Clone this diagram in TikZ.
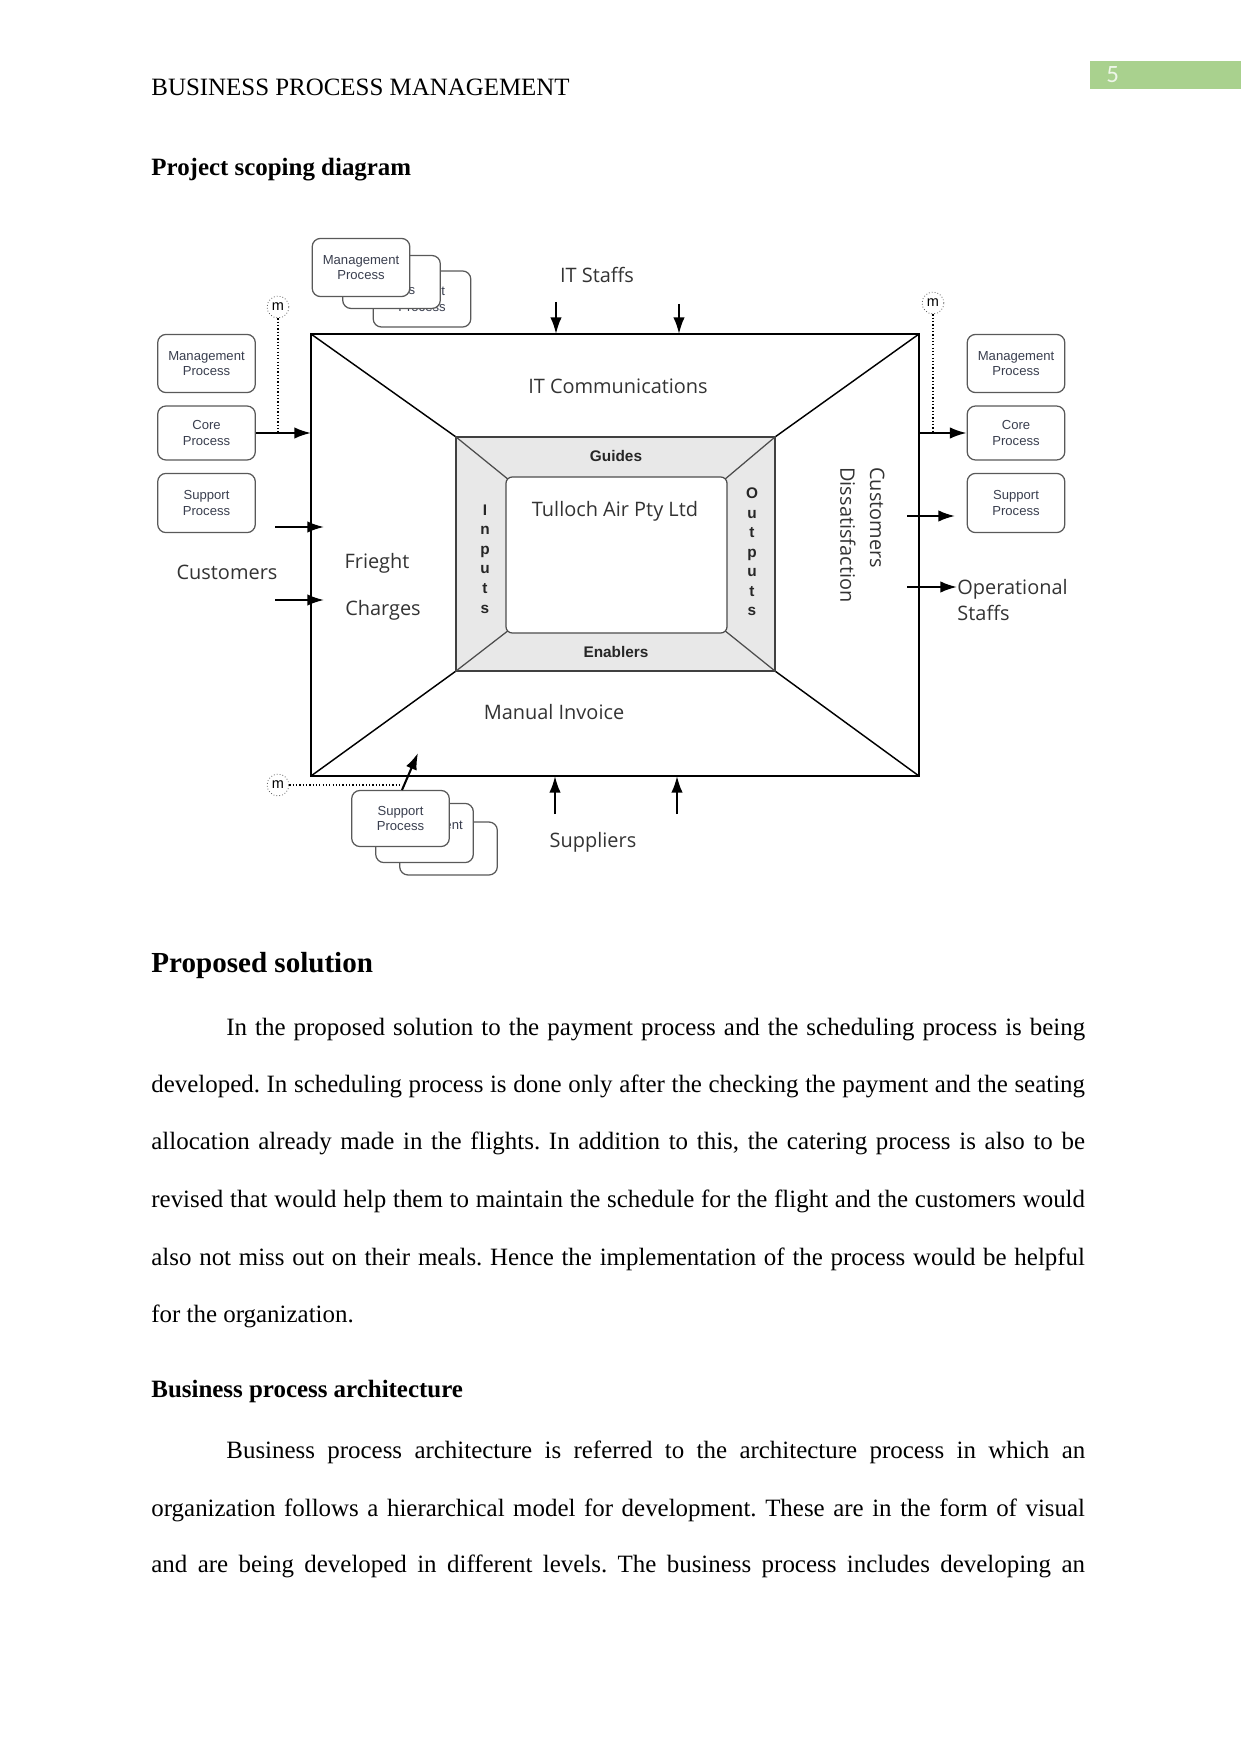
\documentclass[tikz,border=0pt]{standalone}
\usepackage{fontspec}
\setmainfont{Liberation Serif}
\newfontfamily\diagfont{Open Sans}
\newfontfamily\boxfont{Liberation Sans}
\newfontfamily\numfont{Carlito}
\usetikzlibrary{arrows.meta,positioning}
\definecolor{pagegreen}{HTML}{A9D18E}
\definecolor{boxtext}{HTML}{3A3F4F}
\frenchspacing

\begin{document}
\begin{tikzpicture}[x=0.016922cm,y=-0.016922cm,
  bodyline/.style={anchor=base west,inner sep=0pt,font=\fontsize{12}{14}\selectfont},
  procbox/.style={draw=black!65,fill=white,rounded corners=4pt,line width=0.6pt,minimum width=47pt,minimum height=27.5pt,align=center,inner sep=1pt,font=\boxfont\fontsize{6.3}{7.4}\selectfont,text=boxtext},
  lbl/.style={font=\diagfont\fontsize{9.6}{12.5}\selectfont,text=black!80,inner sep=0pt},
  flow/.style={line width=1pt,-{Latex[length=8pt,width=5.5pt]}},
  mcircle/.style={circle,draw=black!60,densely dotted,minimum size=10.5pt,inner sep=0pt,font=\boxfont\fontsize{7}{8}\selectfont},
  mline/.style={densely dotted,line width=0.6pt},
  sidetext/.style={font=\boxfont\bfseries\fontsize{7.4}{9.4}\selectfont,align=center,inner sep=0pt,text=black!85}]
\useasboundingbox (0,0) rectangle (1241,1754);

% Header
\node[bodyline] (head) at (151,96) {BUSINESS PROCESS MANAGEMENT};
\fill[pagegreen] (1090,61) rectangle (1241,89);
\node[anchor=base west,inner sep=0pt,font=\numfont\fontsize{12}{14}\selectfont,text=white!80!pagegreen] (pnum) at (1106,83) {5};
\node[bodyline,font=\bfseries\fontsize{12}{14}\selectfont] (title1) at (151,176) {Project scoping diagram};

% Frame of the scope
\coordinate (otl) at (311,334);
\coordinate (otr) at (919,334);
\coordinate (obr) at (919,776);
\coordinate (obl) at (311,776);
\coordinate (itl) at (456,437);
\coordinate (itr) at (775,437);
\coordinate (ibr) at (775,671);
\coordinate (ibl) at (456,671);
\coordinate (ctl) at (509,480);
\coordinate (ctr) at (724,480);
\coordinate (cbr) at (724,630);
\coordinate (cbl) at (509,630);
\draw[line width=0.7pt] (otl) rectangle (obr);
\draw[line width=0.7pt] (otl) -- (itl) (otr) -- (itr) (obr) -- (ibr) (obl) -- (ibl);
\draw[fill=black!9,draw=black!75,line width=0.7pt] (itl) rectangle (ibr);
\draw[draw=black!70,line width=0.6pt] (itl) -- (ctl) (itr) -- (ctr) (ibr) -- (cbr) (ibl) -- (cbl);
\draw[fill=white,draw=black!70,line width=0.6pt,rounded corners=3pt] (506,477) rectangle (727,633);

% Middle texts
\node[lbl] (tulloch) at (615,511) {Tulloch Air Pty Ltd};
\node[sidetext] (guides) at (616,456) {Guides};
\node[sidetext] (enablers) at (616,652) {Enablers};
\node[sidetext] (inputs) at (485,559) {I\\n\\p\\u\\t\\s};
\node[sidetext] (outputs) at (752,552) {O\\u\\t\\p\\u\\t\\s};
\node[lbl] (itcomm) at (618,386) {IT Communications};
\node[lbl] (manual) at (554,712) {Manual Invoice};
\node[lbl] (frieght) at (377,563) {Frieght};
\node[lbl] (charges) at (383,610) {Charges};
\node[lbl,rotate=-90,anchor=north west,align=left,font=\diagfont\fontsize{9.6}{14.4}\selectfont] (dissat) at (885,467) {Customers\\Dissatisfaction};

% Stacked cards on top
\node[procbox,minimum height=27pt] (tsup) at (422,299) {Support\\Process};
\node[procbox,minimum height=25.5pt] (tcore) at (391.5,282) {Core\\Process};
\node[procbox,minimum height=28pt] (tman) at (361,267.5) {Management\\Process};

% Stacked cards at the bottom
\node[procbox,minimum height=25.5pt] (bcore) at (448.5,848.5) {Core\\Process};
\node[procbox,minimum height=28.5pt] (bman) at (424.5,833) {Management\\Process};
\node[procbox,minimum height=27pt] (bsup) at (400.5,818.5) {Support\\Process};

% Left process boxes
\node[procbox,minimum height=28pt] (lman) at (206.5,363.5) {Management\\Process};
\node[procbox,minimum height=26pt] (lcore) at (206.5,433) {Core\\Process};
\node[procbox,minimum height=28.5pt] (lsup) at (206.5,503) {Support\\Process};

% Right process boxes
\node[procbox,minimum height=28pt] (rman) at (1016,363.5) {Management\\Process};
\node[procbox,minimum height=26pt] (rcore) at (1016,433) {Core\\Process};
\node[procbox,minimum height=28.5pt] (rsup) at (1016,503) {Support\\Process};

% m markers
\node[mcircle] (mtl) at (278,307) {m};
\node[mcircle] (mtr) at (933,303) {m};
\node[mcircle] (mbl) at (278,785) {m};
\coordinate (bjoin) at (402,785);
\draw[mline] (mtl) -- (mtl |- lcore.east);
\draw[mline] (mtr) -- (mtr |- rcore.west);
\draw[mline] (mbl) -- (bjoin);

% Stakeholders
\node[lbl] (itstaff) at (597,275) {IT Staffs};
\node[lbl] (customers) at (227,572) {Customers};
\node[lbl] (suppliers) at (593,842) {Suppliers};
\node[lbl,anchor=west,align=left] (opstaff) at (957,600) {Operational\\Staffs};

% Arrows
\coordinate (its1) at (556,302);
\coordinate (its2) at (679,304);
\coordinate (sup1) at (555,814);
\coordinate (sup2) at (677,814);
\coordinate (cus1a) at (275,527);
\coordinate (cus1b) at (324,527);
\coordinate (cus2a) at (275,600);
\coordinate (cus2b) at (324,600);
\coordinate (rout1) at (907,516);
\coordinate (rout2) at (907,587);
\coordinate (bfoot) at (402,790);
\coordinate (bhead) at (418,753);
\draw[flow] (its1) -- (its1 |- otl);
\draw[flow] (its2) -- (its2 |- otl);
\draw[flow] (sup1) -- (sup1 |- obl);
\draw[flow] (sup2) -- (sup2 |- obl);
\draw[flow] (lcore.east) -- (lcore.east -| otl);
\draw[flow] (rcore.west -| otr) -- (rcore.west);
\draw[flow] (cus1a) -- (cus1b);
\draw[flow] (cus2a) -- (cus2b);
\draw[flow] (rout1) -- ++(48,0);
\draw[flow] (rout2) -- (opstaff.west |- rout2);
\draw[flow] (bfoot) -- (bhead);

% Proposed solution
\node[bodyline,font=\bfseries\fontsize{14}{16}\selectfont] (title2) at (151,972) {Proposed solution};
\node[bodyline] (pa1) at (226,1035) {\makebox[413.5pt][s]{In the proposed solution to the payment process and the scheduling process is being}};
\node[bodyline] (pa2) at (151,1092) {\makebox[449.5pt][s]{developed. In scheduling process is done only after the checking the payment and the seating}};
\node[bodyline] (pa3) at (151,1149) {\makebox[449.5pt][s]{allocation already made in the flights. In addition to this, the catering process is also to be}};
\node[bodyline] (pa4) at (151,1207) {\makebox[449.5pt][s]{revised that would help them to maintain the schedule for the flight and the customers would}};
\node[bodyline] (pa5) at (151,1265) {\makebox[449.5pt][s]{also not miss out on their meals. Hence the implementation of the process would be helpful}};
\node[bodyline] (pa6) at (151,1322) {for the organization.};

% Business process architecture
\node[bodyline,font=\bfseries\fontsize{12}{14}\selectfont] (title3) at (151,1397) {Business process architecture};
\node[bodyline] (pb1) at (226,1458) {\makebox[413.5pt][s]{Business process architecture is referred to the architecture process in which an}};
\node[bodyline] (pb2) at (151,1516) {\makebox[449.5pt][s]{organization follows a hierarchical model for development. These are in the form of visual}};
\node[bodyline] (pb3) at (151,1572) {\makebox[449.5pt][s]{and are being developed in different levels. The business process includes developing an}};
\end{tikzpicture}
\end{document}
